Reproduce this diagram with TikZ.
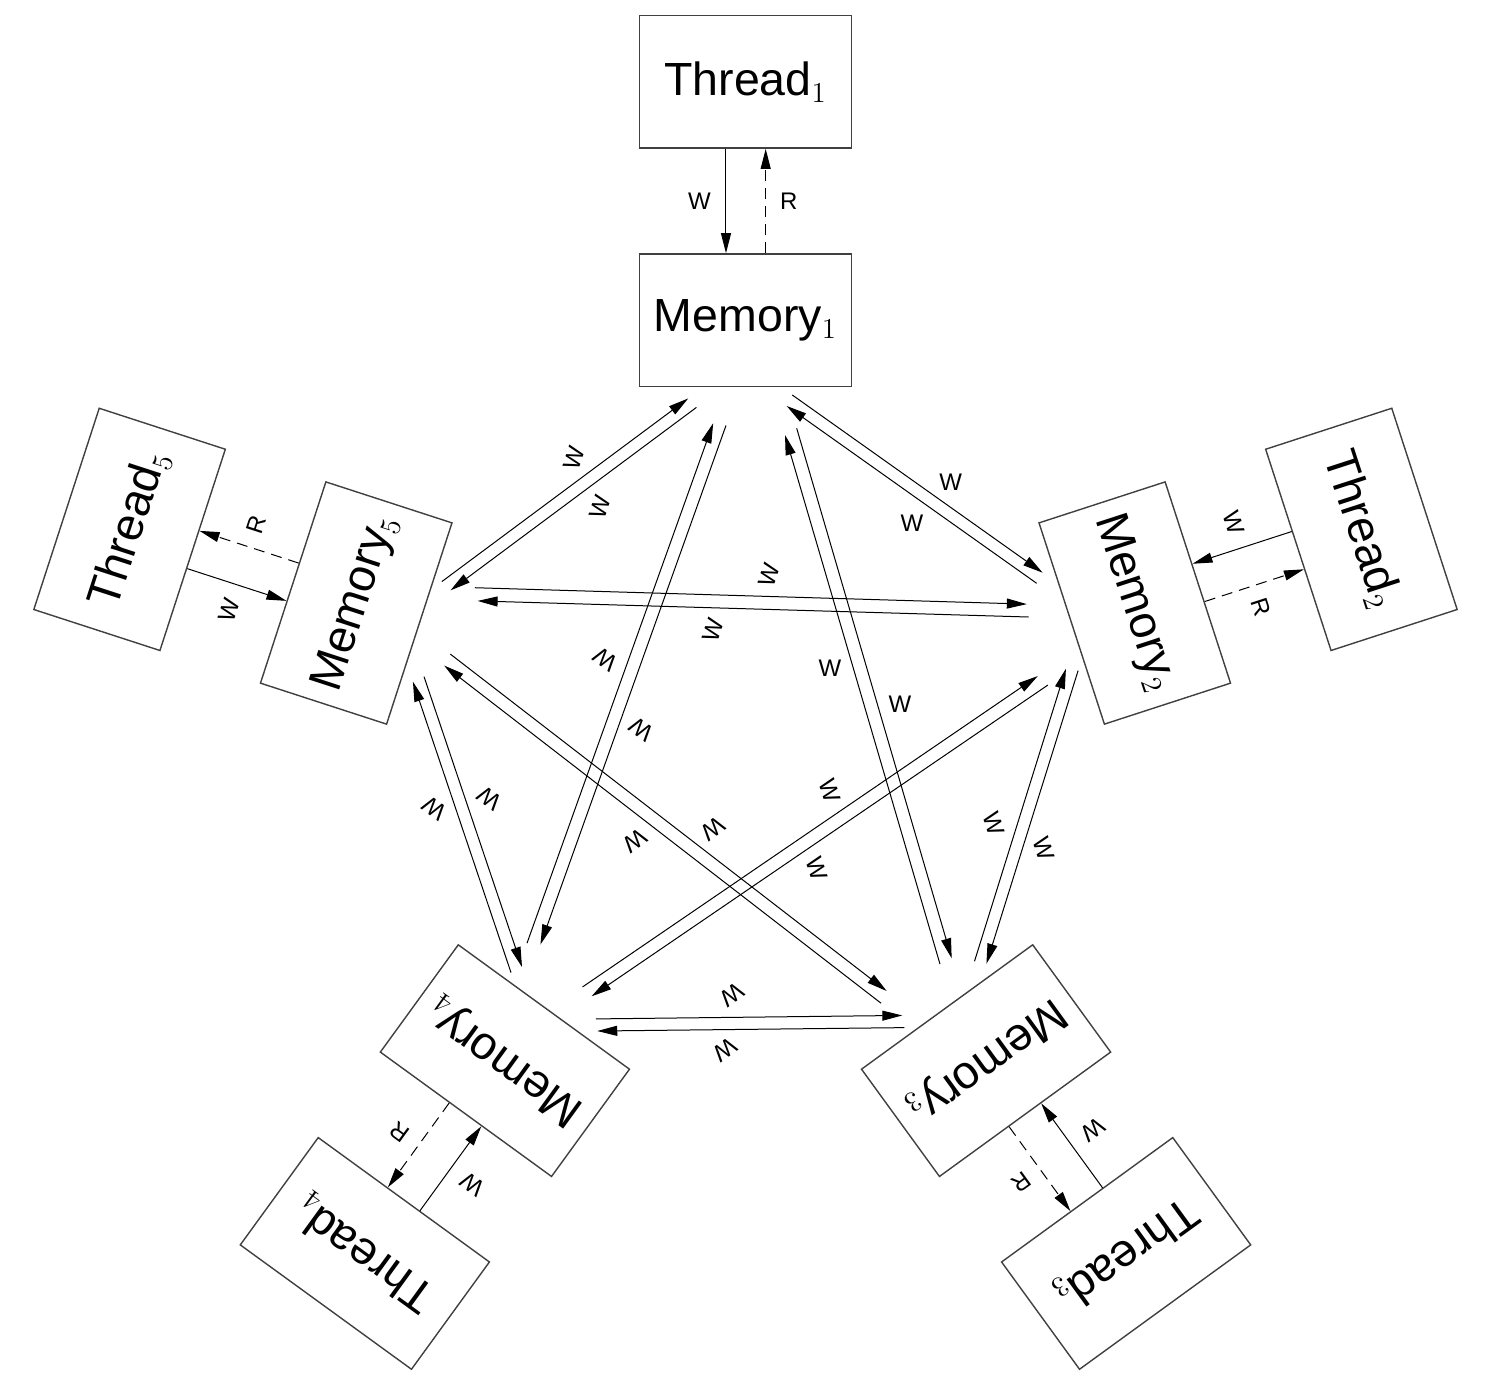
\documentclass[tikz,border=0pt]{standalone}
\usepackage[no-math]{fontspec}
\setmainfont{Liberation Sans}
\usetikzlibrary{arrows.meta,calc}
\DeclareMathSizes{23.25}{23.25}{14.2}{10}

\begin{document}
\begin{tikzpicture}[x=0.5pt,y=0.5pt,
	box node/.style={rectangle,draw=black!75,line width=0.7pt,minimum width=105.8pt,minimum height=66.3pt,inner sep=0pt,font=\fontsize{23.25}{28}\selectfont},
	write edge/.style={-{Triangle[length=10pt,width=5pt]},line width=0.5pt},
	read edge/.style={write edge,dash pattern=on 5.5pt off 3.5pt},
	edge label/.style={inner sep=0pt,font=\fontsize{12}{14}\selectfont}
]

	\def \n {5}
	\def \rmem {409.3}
	\def \rthr {647.6}

	\useasboundingbox (-745.5,-652.5) rectangle (747.5,729.5);

	\foreach \s in {1,...,\n} {
		\begin{scope}[rotate={-72*(\s-1)},transform shape]
			\node[box node] (m\s) at (90:\rmem) {Memory$_{\s}$};
			\node[box node] (t\s) at (90:\rthr) {Thread$_{\s}$};
		\end{scope}
	}

	\foreach \s in {1,...,\n} {
		\pgfmathtruncatemacro{\p}{mod(\s,\n)+1}
		\pgfmathtruncatemacro{\q}{mod(\s+1,\n)+1}
		\begin{scope}[rotate={-72*(\s-1)},transform shape]
			% thread and its own memory
			\draw[write edge] ($(t\s.south)+(-19.5,0)$) -- node[edge label,shift={(-26.5,0)}] {W} ($(m\s.north)+(-19.5,0)$);
			\draw[read edge] ($(m\s.north)+(20.2,0)$) -- node[edge label,shift={(23,0)}] {R} ($(t\s.south)+(20.2,0)$);
			% next memory
			\draw[write edge] ($(m\s.center)+(46.8,-74.8)$) -- node[edge label,pos=.585,shift={(11.9,16.7)}] {W} ($(m\p.center)+(-92.1,30.3)$);
			\draw[write edge] ($(m\p.center)+(-98.1,19.7)$) -- node[edge label,pos=.446,shift={(-13.2,-18.7)}] {W} ($(m\s.center)+(41.2,-85.8)$);
			% memory after next
			\draw[write edge] ($(m\s.center)+(51.2,-108.1)$) -- node[edge label,pos=.532,shift={(20.8,6.1)}] {W} ($(m\q.center)+(-34.4,102.3)$);
			\draw[write edge] ($(m\q.center)+(-46.1,96.6)$) -- node[edge label,pos=.571,shift={(-21.5,-6.3)}] {W} ($(m\s.center)+(39.5,-114.8)$);
		\end{scope}
	}
\end{tikzpicture}
\end{document}
